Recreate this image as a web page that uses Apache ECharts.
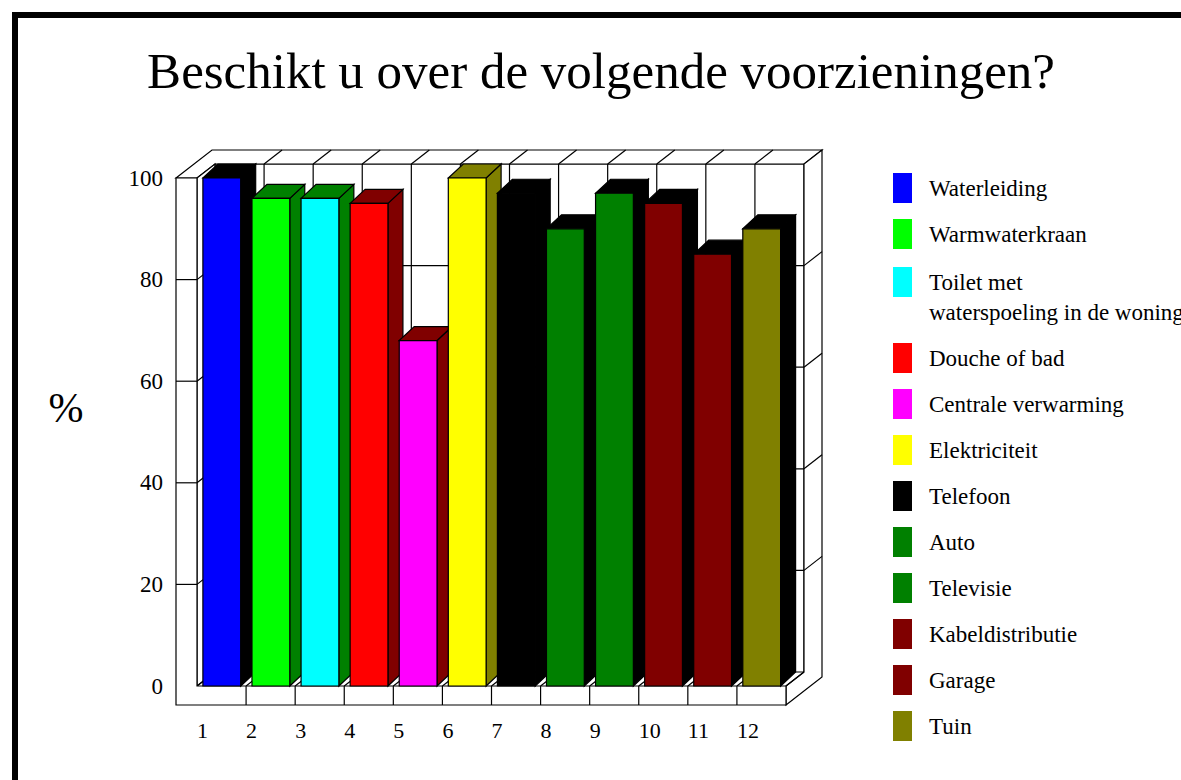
<!DOCTYPE html>
<html>
<head>
<meta charset="utf-8">
<title>Beschikt u over de volgende voorzieningen?</title>
<script src="https://cdn.jsdelivr.net/npm/echarts@6/dist/echarts.min.js"></script>
<style>
  html, body { margin: 0; padding: 0; background: #fff; }
  #chart { width: 1181px; height: 780px; }
</style>
</head>
<body>
<div id="chart"></div>
<script>
// data
var categories = ['1', '2', '3', '4', '5', '6', '7', '8', '9', '10', '11', '12'];
var names = ['Waterleiding', 'Warmwaterkraan', 'Toilet met waterspoeling in de woning', 'Douche of bad',
  'Centrale verwarming', 'Elektriciteit', 'Telefoon', 'Auto', 'Televisie', 'Kabeldistributie', 'Garage', 'Tuin'];
var values = [100, 96, 96, 95, 68, 100, 97, 90, 97, 95, 85, 90];
var yTicks = [0, 20, 40, 60, 80, 100];
var frontColors = ['#0000ff', '#00ff00', '#00ffff', '#ff0000', '#ff00ff', '#ffff00',
  '#000000', '#008000', '#008000', '#800000', '#800000', '#808000'];
var sideColors = ['#000000', '#008000', '#008000', '#800000', '#800000', '#808000',
  '#000000', '#000000', '#000000', '#000000', '#000000', '#000000'];

var FONT = "'Liberation Serif', 'Times New Roman', serif";
// 3d look (pixels)
var D1 = [18, -14];   // front face of back wall
var D2 = [36, -28];   // back face of back wall
var BAR_D = [15, -14];
var WALL = 21;        // left wall thickness
var FLOOR = 19;       // floor thickness

var chart = echarts.init(document.getElementById('chart'), null, { renderer: 'svg' });

function line(x1, y1, x2, y2) {
  return { type: 'line', shape: { x1: x1, y1: y1, x2: x2, y2: y2 }, style: { stroke: '#000', lineWidth: 1.2 } };
}
function poly(points, fill) {
  return { type: 'polygon', shape: { points: points }, style: { fill: fill, stroke: '#000', lineWidth: 1.2 } };
}

// walls, floor and grid of the box
function renderFrame(params, api) {
  var o = api.coord([0, 0]);
  var e = api.coord([categories.length, 0]);
  var t = api.coord([0, 100]);
  var x0 = o[0], x1 = e[0], y0 = o[1], yT = t[1];
  var c = [];

  // back wall
  c.push({ type: 'rect', shape: { x: x0 + D1[0], y: yT + D1[1], width: x1 - x0, height: y0 - yT },
    style: { fill: '#fff', stroke: '#000', lineWidth: 1.2 } });
  yTicks.forEach(function (v) {
    if (v > 0 && v < 100) {
      var y = api.coord([0, v])[1] + D1[1];
      c.push(line(x0 + D1[0], y, x1 + D1[0], y));
    }
  });
  for (var i = 1; i < categories.length; i++) {
    var xb = api.coord([i, 0])[0] + D1[0];
    c.push(line(xb, yT + D1[1], xb, y0 + D1[1]));
  }

  // top of left wall + back wall
  c.push(poly([[x0 - WALL, yT], [x0 - WALL + D2[0], yT + D2[1]], [x1 + D2[0], yT + D2[1]],
    [x1 + D1[0], yT + D1[1]], [x0 + D1[0], yT + D1[1]], [x0, yT]], '#fff'));
  for (i = 1; i < categories.length; i++) {
    var xt = api.coord([i, 0])[0];
    c.push(line(xt + D1[0], yT + D1[1], xt + D2[0], yT + D2[1]));
  }

  // right side
  c.push(poly([[x1, y0], [x1 + D1[0], y0 + D1[1]], [x1 + D1[0], yT + D1[1]], [x1 + D2[0], yT + D2[1]],
    [x1 + D2[0], y0 + FLOOR + D2[1]], [x1, y0 + FLOOR]], '#fff'));
  yTicks.forEach(function (v) {
    if (v > 0 && v < 100) {
      var y = api.coord([0, v])[1];
      c.push(line(x1 + D1[0], y + D1[1], x1 + D2[0], y + D2[1]));
    }
  });

  // inner face of left wall
  c.push(poly([[x0, yT], [x0 + D1[0], yT + D1[1]], [x0 + D1[0], y0 + D1[1]], [x0, y0]], '#fff'));
  yTicks.forEach(function (v) {
    if (v > 0 && v < 100) {
      var y = api.coord([0, v])[1];
      c.push(line(x0, y, x0 + D1[0], y + D1[1]));
    }
  });

  // floor lines
  for (i = 0; i <= categories.length; i++) {
    var xf = api.coord([i, 0])[0];
    c.push(line(xf, y0, xf + D1[0], y0 + D1[1]));
  }

  // front of left wall and floor
  c.push(poly([[x0 - WALL, yT], [x0, yT], [x0, y0], [x1, y0], [x1, y0 + FLOOR], [x0 - WALL, y0 + FLOOR]], '#fff'));
  yTicks.forEach(function (v) {
    if (v > 0 && v < 100) {
      var y = api.coord([0, v])[1];
      c.push(line(x0 - WALL, y, x0, y));
    }
  });
  for (i = 1; i < categories.length; i++) {
    var xk = api.coord([i, 0])[0];
    c.push(line(xk, y0, xk, y0 + FLOOR));
  }

  return { type: 'group', children: c };
}

function renderBar(params, api) {
  var i = api.value(0), v = api.value(1);
  var b = api.coord([i, 0]);
  var n = api.coord([i + 1, 0]);
  var t = api.coord([i, v]);
  var w = n[0] - b[0];
  var xl = b[0] + w * 0.12, xr = b[0] + w * 0.89;
  var yb = b[1], yt = t[1];
  var dx = BAR_D[0], dy = BAR_D[1];
  return {
    type: 'group',
    children: [
      poly([[xr, yt], [xr + dx, yt + dy], [xr + dx, yb + dy], [xr, yb]], sideColors[i]),
      poly([[xl, yt], [xl + dx, yt + dy], [xr + dx, yt + dy], [xr, yt]], sideColors[i]),
      { type: 'rect', shape: { x: xl, y: yt, width: xr - xl, height: yb - yt },
        style: { fill: frontColors[i], stroke: '#000', lineWidth: 1.2 } }
    ]
  };
}

var series = [{
  type: 'custom',
  name: 'frame',
  renderItem: renderFrame,
  data: [[0, 0]],
  silent: true,
  z: 1
}];
names.forEach(function (nm, i) {
  series.push({
    type: 'custom',
    name: nm,
    renderItem: renderBar,
    data: [[i, values[i]]],
    itemStyle: { color: frontColors[i] },
    z: 2
  });
});

function legendCfg(items, top) {
  return {
    orient: 'vertical',
    left: 893,
    top: top,
    padding: 0,
    itemWidth: 19,
    itemHeight: 30,
    itemGap: 16,
    icon: 'rect',
    selectedMode: false,
    data: items,
    // long name wraps, first line level with the swatch
    formatter: function (name) {
      return name.indexOf('met ') > 0 ? '\n' + name.replace('met ', 'met\n') : name;
    },
    textStyle: { fontFamily: FONT, fontSize: 23, color: '#000', lineHeight: 30, padding: [0, 0, 0, 12] }
  };
}

var option = {
  animation: false,
  backgroundColor: '#fff',
  title: {
    text: 'Beschikt u over de volgende voorzieningen?',
    left: 596,
    top: 40,
    textAlign: 'center',
    textStyle: { fontFamily: FONT, fontSize: 51, fontWeight: 'normal', color: '#000' }
  },
  grid: { left: 197, right: 395, top: 178, bottom: 94 },
  xAxis: {
    type: 'value',
    min: 0,
    max: categories.length,
    interval: 1,
    axisLine: { show: false },
    axisTick: { show: false },
    splitLine: { show: false },
    axisLabel: {
      formatter: function (v) { return v < categories.length ? categories[v] : ''; },
      align: 'left',
      margin: 33,
      fontFamily: FONT,
      fontSize: 22,
      color: '#000'
    }
  },
  yAxis: {
    type: 'value',
    min: 0,
    max: 100,
    interval: 20,
    axisLine: { show: false },
    axisTick: { show: false },
    splitLine: { show: false },
    axisLabel: { margin: 34, fontFamily: FONT, fontSize: 23, color: '#000' }
  },
  legend: [
    legendCfg(names.slice(0, 2), 173),
    legendCfg([names[2]], 237),
    legendCfg(names.slice(3), 343)
  ],
  graphic: [
    { type: 'rect', silent: true, shape: { x: 15, y: 15, width: 1250, height: 850 },
      style: { fill: 'none', stroke: '#000', lineWidth: 6 } },
    { type: 'text', x: 66, y: 408,
      style: { text: '%', font: '42px ' + FONT, fill: '#000', align: 'center', verticalAlign: 'middle' } }
  ],
  series: series
};
chart.setOption(option);
</script>
</body>
</html>
